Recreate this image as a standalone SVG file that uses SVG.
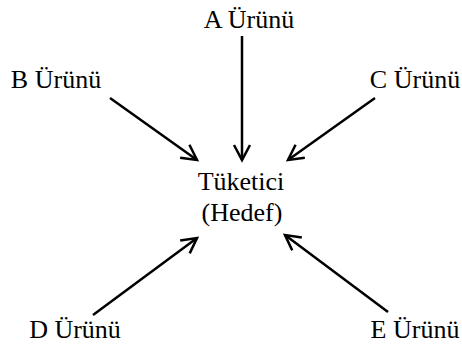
<svg xmlns="http://www.w3.org/2000/svg" width="462" height="349" viewBox="0 0 462 349">
  <style>
    text { font-family: 'Liberation Serif', 'Times New Roman', 'DejaVu Serif', serif; font-size: 26px; fill: #000; text-anchor: middle; }
    .edge { stroke: #000; stroke-width: 2.5; fill: none; marker-end: url(#open); }
  </style>
  <defs>
    <marker id="open" markerUnits="userSpaceOnUse" markerWidth="24" markerHeight="24" refX="16" refY="9" orient="auto">
      <path d="M1,1 L16,9 L1,17" fill="none" stroke="#000" stroke-width="2.5"/>
    </marker>
  </defs>
  <rect width="462" height="349" fill="#fff"/>

  <g id="connectors">
    <line class="edge" x1="242" y1="36" x2="242" y2="160"/>
    <line class="edge" x1="110" y1="98" x2="197" y2="160"/>
    <line class="edge" x1="375" y1="98" x2="288" y2="160"/>
    <line class="edge" x1="93" y1="315" x2="197" y2="238"/>
    <line class="edge" x1="388" y1="312" x2="285" y2="235"/>
  </g>

  <g id="target">
    <text x="241" y="190">Tüketici</text>
    <text x="242" y="221">(Hedef)</text>
  </g>
  <g id="productA"><text x="249" y="28">A Ürünü</text></g>
  <g id="productB"><text x="56" y="88">B Ürünü</text></g>
  <g id="productC"><text x="415" y="88">C Ürünü</text></g>
  <g id="productD"><text x="75" y="338">D Ürünü</text></g>
  <g id="productE"><text x="415" y="338">E Ürünü</text></g>
</svg>
